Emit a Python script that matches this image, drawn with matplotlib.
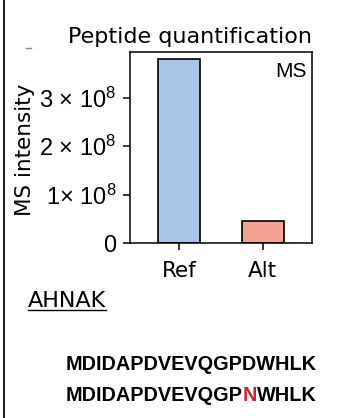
import matplotlib
matplotlib.use("Agg")
import matplotlib.pyplot as plt
from matplotlib.lines import Line2D

# data
groups = ["Ref", "Alt"]
intensity = [3.81e8, 0.46e8]
bar_colors = ["#a9c4e6", "#f4a192"]
yticks = [0, 1e8, 2e8, 3e8]
ytick_labels = ["0", "1× 10$^{8}$", "2 × 10$^{8}$", "3 × 10$^{8}$"]
gene = "AHNAK"
seq_ref = "MDIDAPDVEVQGPDWHLK"
seq_alt = ["MDIDAPDVEVQGP", "N", "WHLK"]

plt.rcParams["mathtext.fontset"] = "custom"
plt.rcParams["mathtext.rm"] = "Liberation Sans"
plt.rcParams["mathtext.it"] = "Liberation Sans:italic"
plt.rcParams["mathtext.bf"] = "Liberation Sans:bold"
plt.rcParams["mathtext.default"] = "regular"

W, H = 341, 418
fig = plt.figure(figsize=(W / 100, H / 100), dpi=100)

ax = fig.add_axes([130 / W, 1 - 243 / H, 182 / W, 191 / H])
x = list(range(len(groups)))
ax.bar(x, intensity, width=0.5, color=bar_colors, edgecolor="black", linewidth=1.2)
ax.set_xlim(-0.59, 1.59)
ax.set_ylim(0, 3.95e8)
ax.set_xticks(x)
ax.set_xticklabels(groups, fontsize=15.5, family="DejaVu Sans")
ax.set_yticks(yticks)
ax.set_yticklabels(ytick_labels, fontsize=17, family="Liberation Sans")
ax.tick_params(axis="both", direction="out", length=5, width=1.1)
ax.tick_params(axis="x", pad=8)
ax.tick_params(axis="y", pad=5)
for s in ax.spines.values():
    s.set_linewidth(1.1)
ax.set_ylabel("MS intensity", fontsize=15.5, family="DejaVu Sans")
ax.yaxis.set_label_coords(-0.52, 0.49)
ax.text(0.97, 0.95, "MS", transform=ax.transAxes, ha="right", va="top",
        fontsize=15, family="Liberation Sans")

fig.text(312 / W, 1 - 43 / H, "Peptide quantification", ha="right", va="baseline",
         fontsize=16, family="DejaVu Sans")

# gene name, underlined
fig.text(28 / W, 1 - 307 / H, gene, ha="left", va="baseline", fontsize=16, family="DejaVu Sans")
fig.add_artist(Line2D([28 / W, 106 / W], [1 - 310 / H, 1 - 310 / H], color="black", lw=1.0))

# sequences
fig.text(66 / W, 1 - 370 / H, seq_ref, ha="left", va="baseline", fontsize=14.3,
         family="Liberation Sans", weight="bold")
t = fig.text(66 / W, 1 - 401 / H, seq_alt[0], ha="left", va="baseline", fontsize=14.3,
             family="Liberation Sans", weight="bold")
for part, col in zip(seq_alt[1:], ["#cc2229", "black"]):
    t = fig.add_artist(plt.Annotation(part, xy=(1, 0), xycoords=t, ha="left", va="bottom",
                                      fontsize=14.3, family="Liberation Sans", weight="bold",
                                      color=col))

# panel border at left and stray mark
fig.add_artist(Line2D([3.5 / W, 3.5 / W], [0, 1], color="#222222", lw=1.5))
fig.add_artist(Line2D([26 / W, 31 / W], [1 - 47.5 / H, 1 - 47.5 / H], color="#888888", lw=1.0))

fig.savefig("out.png", dpi=100)
